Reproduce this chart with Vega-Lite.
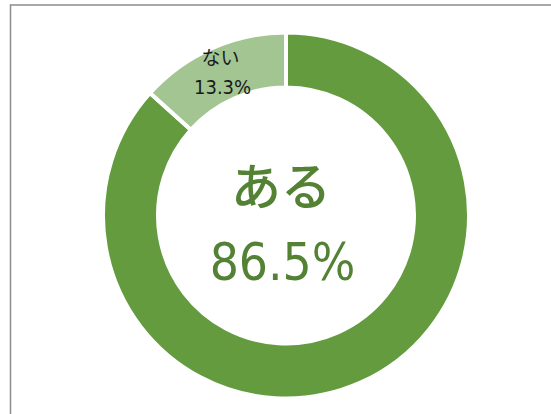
{
  "$schema": "https://vega.github.io/schema/vega-lite/v6.json",
  "width": 551,
  "height": 421,
  "autosize": {"type": "none"},
  "padding": {"left": 10.5, "top": 5, "right": 0, "bottom": 0},
  "background": "white",
  "view": {"stroke": "#8c8c8c", "strokeWidth": 1.5, "fill": "white"},
  "data": {
    "values": [
      {"category": "ある", "value": 86.5, "label": "86.5%"},
      {"category": "ない", "value": 13.3, "label": "13.3%"}
    ]
  },
  "encoding": {
    "theta": {"field": "value", "type": "quantitative", "stack": true},
    "order": {"field": "category", "sort": "ascending"}
  },
  "layer": [
    {
      "mark": {"type": "arc", "radius": 183, "innerRadius": 128, "stroke": "white", "strokeWidth": 4},
      "encoding": {
        "color": {
          "field": "category",
          "type": "nominal",
          "scale": {"domain": ["ある", "ない"], "range": ["#639b3e", "#a2c592"]},
          "legend": null
        }
      }
    },
    {
      "mark": {"type": "text", "radius": 156, "dx": -2, "dy": -14, "baseline": "middle", "fontSize": 19, "font": "Noto Sans CJK JP", "color": "#1a1a1a"},
      "encoding": {
        "text": {"field": "category"},
        "opacity": {"condition": {"test": "datum.category === 'ない'", "value": 1}, "value": 0}
      }
    },
    {
      "mark": {"type": "text", "radius": 156, "dy": 15, "baseline": "middle", "fontSize": 20, "font": "DejaVu Sans Condensed", "color": "#1a1a1a"},
      "encoding": {
        "text": {"field": "label"},
        "opacity": {"condition": {"test": "datum.category === 'ない'", "value": 1}, "value": 0}
      }
    },
    {
      "mark": {"type": "text", "radius": 0, "dx": -5, "dy": -26, "baseline": "middle", "fontSize": 50, "fontWeight": 500, "font": "Noto Sans CJK JP", "color": "#548235"},
      "encoding": {
        "text": {"field": "category"},
        "opacity": {"condition": {"test": "datum.category === 'ある'", "value": 1}, "value": 0}
      }
    },
    {
      "mark": {"type": "text", "radius": 0, "dx": -3.5, "dy": 64.5, "baseline": "alphabetic", "fontSize": 51, "font": "DejaVu Sans Condensed", "color": "#548235"},
      "encoding": {
        "text": {"field": "label"},
        "opacity": {"condition": {"test": "datum.category === 'ある'", "value": 1}, "value": 0}
      }
    }
  ]
}
